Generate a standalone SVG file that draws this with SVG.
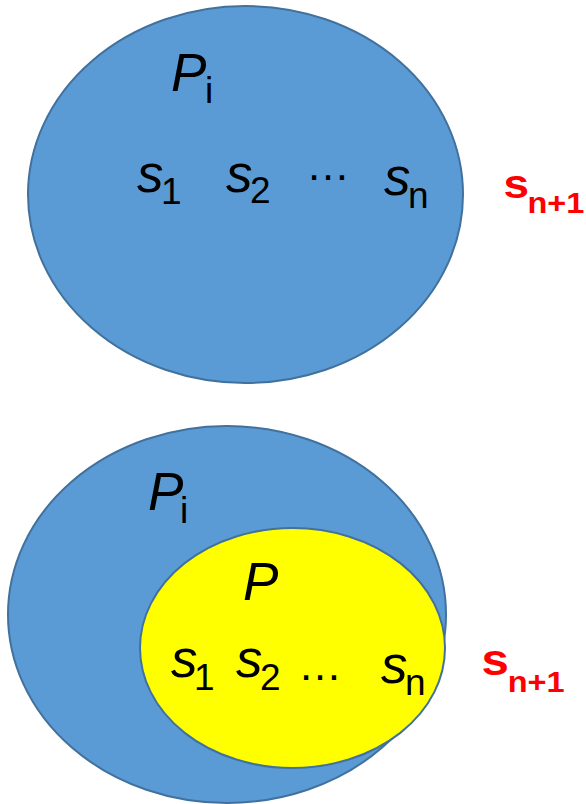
<svg xmlns="http://www.w3.org/2000/svg" width="586" height="804" viewBox="0 0 586 804">
<style>
.blue{fill:#5B9BD5;stroke:#41719C;stroke-width:2}
.yel{fill:#FFFF00;stroke:#41719C;stroke-width:2}
text{font-family:"Liberation Sans",Arial,sans-serif;fill:#000}
.m{font-size:53px;font-style:italic}
.sub{font-size:37px;font-style:normal}
.dots{font-size:44px}
.r{fill:#FF0000;font-weight:bold}
.rs{font-size:29px}
</style>
<rect width="586" height="804" fill="#fff"/>
<g id="top">
<g id="top-Pi">
<ellipse class="blue" cx="245.5" cy="194.5" rx="217.5" ry="188.5"/>
<text class="m" x="171" y="91">P<tspan class="sub" x="205" y="103">i</tspan></text>
</g>
<g id="top-s">
<text class="m" x="137" y="192">s<tspan class="sub" x="161" y="204">1</tspan></text>
<text class="m" x="226" y="192">s<tspan class="sub" x="250" y="203">2</tspan></text>
<text class="dots" x="306" y="180">…</text>
<text class="m" x="384" y="195">s<tspan class="sub" x="408" y="208">n</tspan></text>
</g>
<g id="top-sn1" transform="scale(1.12,1)">
<text class="r" x="449.6" y="198" style="font-size:41px">s<tspan class="rs" x="471" y="213">n+1</tspan></text>
</g>
</g>
<g id="bottom">
<g id="bottom-Pi">
<ellipse class="blue" cx="227" cy="614.5" rx="219" ry="188.5"/>
<text class="m" x="148" y="510">P<tspan class="sub" x="180" y="523">i</tspan></text>
</g>
<g id="bottom-P">
<ellipse class="yel" cx="292.5" cy="648" rx="152.5" ry="120"/>
<text class="m" x="243" y="600">P</text>
<text class="m" x="171" y="677">s<tspan class="sub" x="194" y="690">1</tspan></text>
<text class="m" x="236" y="677">s<tspan class="sub" x="260" y="690">2</tspan></text>
<text class="dots" x="298" y="680">…</text>
<text class="m" x="381" y="683">s<tspan class="sub" x="405" y="695">n</tspan></text>
</g>
<g id="bottom-sn1" transform="scale(1.12,1)">
<text class="r" x="430" y="675" style="font-size:44px">s<tspan class="rs" x="453.3" y="692">n+1</tspan></text>
</g>
</g>
</svg>
